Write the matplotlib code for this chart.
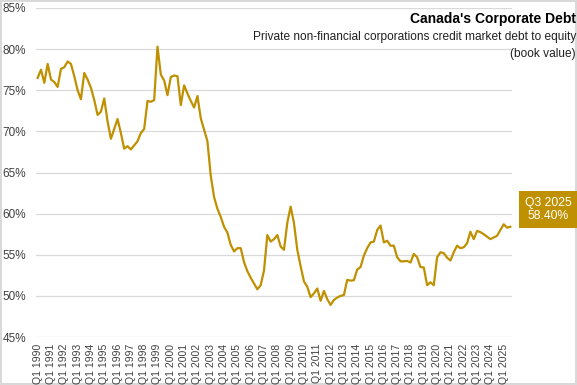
import numpy as np
import matplotlib
matplotlib.use("Agg")
import matplotlib.pyplot as plt

#---------- data -------------------------------------------------------

start_year = 1990
end_year = 2025
last_q = 3

quarters = ["Q%d %d" % (q, y) for y in range(start_year, end_year + 1)
            for q in range(1, 5)]
quarters = quarters[:len(quarters) - (4 - last_q)]

# debt to equity (%)
ratio = [
    76.5, 77.5, 75.9, 78.2, 76.3, 76.0, 75.4, 77.6, 77.8, 78.5,
    78.2, 76.7, 75.0, 73.9, 77.1, 76.3, 75.3, 73.8, 72.0, 72.4,
    74.0, 71.2, 69.1, 70.3, 71.5, 69.8, 67.9, 68.2, 67.8, 68.3,
    68.8, 69.8, 70.3, 73.7, 73.6, 73.8, 80.3, 76.9, 76.2, 74.4,
    76.6, 76.8, 76.7, 73.2, 75.6, 74.6, 73.7, 72.9, 74.3, 71.6,
    70.2, 68.8, 64.6, 62.0, 60.6, 59.6, 58.4, 57.7, 56.2, 55.4,
    55.8, 55.8, 54.1, 53.0, 52.2, 51.5, 50.8, 51.3, 53.1, 57.4,
    56.6, 56.9, 57.4, 56.0, 55.6, 58.9, 60.85, 58.85, 55.6, 53.6,
    51.75, 51.1, 49.85, 50.3, 50.9, 49.4, 50.6, 49.6, 48.9, 49.5,
    49.8, 50.0, 50.1, 51.95, 51.85, 51.9, 53.2, 53.5, 54.9, 55.8,
    56.5, 56.6, 58.0, 58.55, 56.5, 56.7, 56.1, 56.1, 54.7, 54.2,
    54.2, 54.25, 54.05, 55.1, 54.7, 53.5, 53.45, 51.3, 51.65, 51.3,
    54.7, 55.3, 55.2, 54.65, 54.3, 55.3, 56.1, 55.8, 55.9, 56.4,
    57.8, 56.9, 57.9, 57.75, 57.5, 57.2, 56.9, 57.1, 57.3, 58.0,
    58.7, 58.3, 58.4,
]

yticks = [45, 50, 55, 60, 65, 70, 75, 80, 85]

#---------- style ------------------------------------------------------

gold = "#BF9000"
grid_col = "#D9D9D9"
text_col = "#404040"
plt.rcParams['font.family'] = ['Liberation Sans', 'DejaVu Sans']

#---------- plot -------------------------------------------------------

fig = plt.figure(figsize=(5.77, 3.85), dpi=100)
fig.patch.set_edgecolor(grid_col)
fig.patch.set_linewidth(1.5)

W, H = 577.0, 385.0
ax = fig.add_axes([36 / W, 1 - 337 / H, (512 - 36) / W, (337 - 8) / H])

x = np.arange(len(ratio))
ax.plot(x, ratio, color=gold, lw=1.6, solid_joinstyle='round')

ax.set_xlim(-0.5, len(ratio) - 0.5)
ax.set_ylim(45, 85)
ax.set_yticks(yticks)
ax.set_yticklabels(["%d%%" % v for v in yticks], fontsize=8.5, color=text_col)
ax.yaxis.grid(True, color=grid_col, lw=0.9)
ax.set_axisbelow(True)

tick_idx = list(range(0, len(ratio), 4))
ax.set_xticks(tick_idx)
ax.set_xticklabels([quarters[i] for i in tick_idx], rotation=90,
                   fontsize=7.5, color=text_col)
ax.tick_params(axis='both', length=0)
ax.tick_params(axis='y', pad=7)
ax.tick_params(axis='x', pad=5)
for s in ax.spines.values():
    s.set_visible(False)

#---------- titles -----------------------------------------------------

fig.text(576 / W, 1 - 19 / H, "Canada's Corporate Debt", ha='right', va='center',
         fontsize=10, fontweight='bold', color='black',
         family=['Liberation Sans Narrow', 'Liberation Sans'])
fig.text(576 / W, 1 - 37 / H,
         "Private non-financial corporations credit market debt to equity",
         ha='right', va='center', fontsize=8.6, color='#202020')
fig.text(576 / W, 1 - 53.5 / H, "(book value)", ha='right', va='center',
         fontsize=8.6, color='#202020')

#---------- last value box ---------------------------------------------

box = plt.Rectangle((519 / W, 1 - 228 / H), (577 - 519) / W, (228 - 191) / H,
                    transform=fig.transFigure, facecolor=gold, edgecolor='none')
fig.patches.append(box)
fig.text(548 / W, 1 - 209.5 / H, "%s\n%.2f%%" % (quarters[-1], ratio[-1]),
         ha='center', va='center', fontsize=8.7, color='white', linespacing=1.2)

plt.savefig("out.png", dpi=100)
